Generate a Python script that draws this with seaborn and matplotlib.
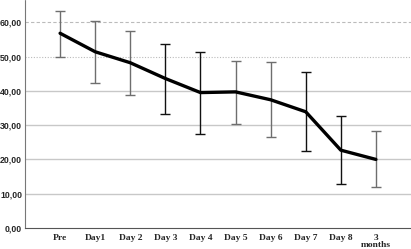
import matplotlib
matplotlib.use("Agg")
import matplotlib.pyplot as plt
import seaborn as sns
import pandas as pd
import numpy as np

categories = ["Pre", "Day1", "Day 2", "Day 3", "Day 4", "Day 5", "Day 6", "Day 7", "Day 8", "3\nmonths"]
means = [56.8, 51.4, 48.2, 43.6, 39.5, 39.7, 37.4, 33.9, 22.7, 20.0]
upper = [63.4, 60.3, 57.6, 53.7, 51.4, 48.8, 48.5, 45.4, 32.7, 28.3]
lower = [49.8, 42.3, 38.8, 33.2, 27.3, 30.3, 26.6, 22.4, 12.8, 11.9]
bar_colors = ["#6e6e6e", "#6e6e6e", "#6e6e6e", "#111111", "#111111",
              "#6e6e6e", "#6e6e6e", "#111111", "#111111", "#6e6e6e"]
yticks = [0, 10, 20, 30, 40, 50, 60]
ytick_labels = ["0,00", "10,00", "20,00", "30,00", "40,00", "50,00", "60,00"]

df = pd.DataFrame({"pos": np.arange(len(categories)), "mean": means,
                   "upper": upper, "lower": lower})

sns.set_theme(style="white")
fig = plt.figure(figsize=(4.11, 2.49), dpi=100)
ax = fig.add_axes([25/411, 21/249, 1 - 25/411, 1 - 21/249])

# gridlines
for v in yticks[1:]:
    if v == 60:
        ax.axhline(v, color="#bbbbbb", lw=0.8, ls=(0, (3, 2)), zorder=0)
    elif v == 50:
        ax.axhline(v, color="#bbbbbb", lw=0.8, ls=(0, (1, 1.5)), zorder=0)
    else:
        ax.axhline(v, color="#c8c8c8", lw=1.0, zorder=0)

for i, row in df.iterrows():
    ax.errorbar(row["pos"], row["mean"],
                yerr=[[row["mean"] - row["lower"]], [row["upper"] - row["mean"]]],
                fmt="none", ecolor=bar_colors[i], elinewidth=1.0, capsize=3.5,
                capthick=1.0, zorder=2)

sns.lineplot(data=df, x="pos", y="mean", color="black", lw=2.4, ax=ax, zorder=3)

ax.set_xlim(-1, 10)
ax.set_ylim(0, 66.5)
ax.set_xticks(df["pos"])
ax.set_xticklabels(categories, fontfamily="Liberation Serif", fontweight="bold",
                   fontsize=6.8, linespacing=0.85)
ax.set_yticks(yticks)
ax.set_yticklabels(ytick_labels, fontfamily="Liberation Sans", fontweight="bold",
                   fontsize=6.3)
ax.tick_params(axis="x", length=0, pad=4)
ax.tick_params(axis="y", length=0, pad=2)
ax.set_xlabel("")
ax.set_ylabel("")

for s in ["top", "right"]:
    ax.spines[s].set_visible(False)
ax.spines["left"].set_color("#777777")
ax.spines["left"].set_linestyle((0, (1, 1)))
ax.spines["left"].set_linewidth(0.8)
ax.spines["bottom"].set_color("#555555")
ax.spines["bottom"].set_linestyle((0, (1, 1)))
ax.spines["bottom"].set_linewidth(0.8)

fig.savefig("out.png", dpi=100)
